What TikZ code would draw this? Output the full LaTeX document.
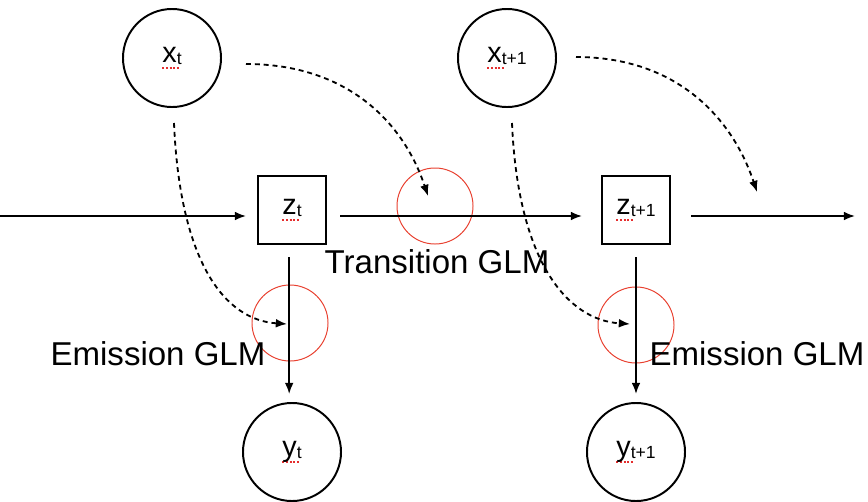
\documentclass[tikz,border=0pt]{standalone}
\usepackage{fontspec}
\setmainfont{Liberation Sans}
\usepackage{tikz}
\usetikzlibrary{arrows.meta, positioning}
\definecolor{RingRed}{HTML}{E8402F}
\definecolor{SpellRed}{HTML}{E52E2E}

% red spell-check dots under a label
\newcommand{\spelldots}[1]{\rlap{\raisebox{-4.5pt}{\hbox to #1{\color{SpellRed}\leaders\hbox to 2.6pt{\rule{1.5pt}{1.4pt}\hss}\hfill}}}}
\newcommand{\varlabel}[3]{\setbox0\hbox{#1\raisebox{-1.5pt}{\fontsize{12.5}{12.5}\selectfont #2}}\spelldots{\wd0}#1\raisebox{-1.5pt}{\fontsize{12.5}{12.5}\selectfont #2#3}}

\tikzset{
  obsnode/.style={draw, circle, line width=1.4pt, minimum size=2.45cm, inner sep=0pt, font=\fontsize{20.5}{20.5}\selectfont},
  latentbox/.style={draw, rectangle, line width=1.4pt, minimum size=1.7cm, inner sep=0pt, font=\fontsize{20.5}{20.5}\selectfont},
  glmring/.style={draw=RingRed, circle, line width=0.7pt, minimum size=1.9cm, inner sep=0pt},
  glmtext/.style={font=\fontsize{23.5}{23.5}\selectfont, inner sep=0pt},
  flow/.style={-{Latex[length=2.8mm, width=2.2mm]}, line width=1.3pt},
  drive/.style={flow, dash pattern=on 3.5pt off 2.8pt}
}

\begin{document}
\begin{tikzpicture}[x=0.025cm, y=-0.025cm]
  \useasboundingbox (0,0) rectangle (868,501);

  % inputs, latent states, outputs
  \node[obsnode] (xt) at (172,58) {\varlabel{x}{t}{}};
  \node[obsnode] (xt1) at (507,58) {\varlabel{x}{t}{+1}};
  \node[latentbox] (zt) at (292,210) {\varlabel{z}{t}{}};
  \node[latentbox] (zt1) at (636,210) {\varlabel{z}{t}{+1}};
  \node[obsnode] (yt) at (292,452) {\varlabel{y}{t}{}};
  \node[obsnode] (yt1) at (636,452) {\varlabel{y}{t}{+1}};

  % GLM marks
  \node[glmring] (gtrans) at (435,206) {};
  \node[glmring] (gemit) at (290,323) {};
  \node[glmring] (gemit1) at (636,325) {};
  \node[glmtext] (ltrans) at (437,262) {Transition GLM};
  \node[glmtext] (lemit) at (158,354) {Emission GLM};
  \node[glmtext] (lemit1) at (757,354) {Emission GLM};

  \coordinate (chainin) at (0,216);
  \coordinate (chainout) at (855,216);
  \coordinate (tin) at (428,196);
  \coordinate (tin1) at (757,192);
  \coordinate (ein) at (287,324);
  \coordinate (ein1) at (630,324);

  % state chain
  \draw[flow, shorten >=0.275cm] (chainin) -- (chainin -| zt.west);
  \draw[flow, shorten <=0.325cm, shorten >=0.475cm] ([yshift=-0.15cm]zt.east) -- ([yshift=-0.15cm]zt1.west);
  \draw[flow, shorten <=0.5cm] ([yshift=-0.15cm]zt1.east) -- (chainout);
  \draw[flow, shorten <=0.3cm, shorten >=0.2cm] ([xshift=-2]zt.south) -- ([xshift=-2]yt.north);
  \draw[flow, shorten <=0.3cm, shorten >=0.2cm] (zt1.south) -- (yt1.north);

  % input drives
  \draw[drive] ([shift={(24,6)}]xt.east) .. controls +(100,0) and +(-25,-75) .. (tin);
  \draw[drive] ([shift={(19,-1)}]xt1.east) .. controls +(100,0) and +(-25,-75) .. (tin1);
  \draw[drive] ([shift={(2,15)}]xt.south) .. controls +(6,140) and +(-62,-4) .. (ein);
  \draw[drive] ([shift={(5,15)}]xt1.south) .. controls +(6,140) and +(-62,-4) .. (ein1);
\end{tikzpicture}
\end{document}
